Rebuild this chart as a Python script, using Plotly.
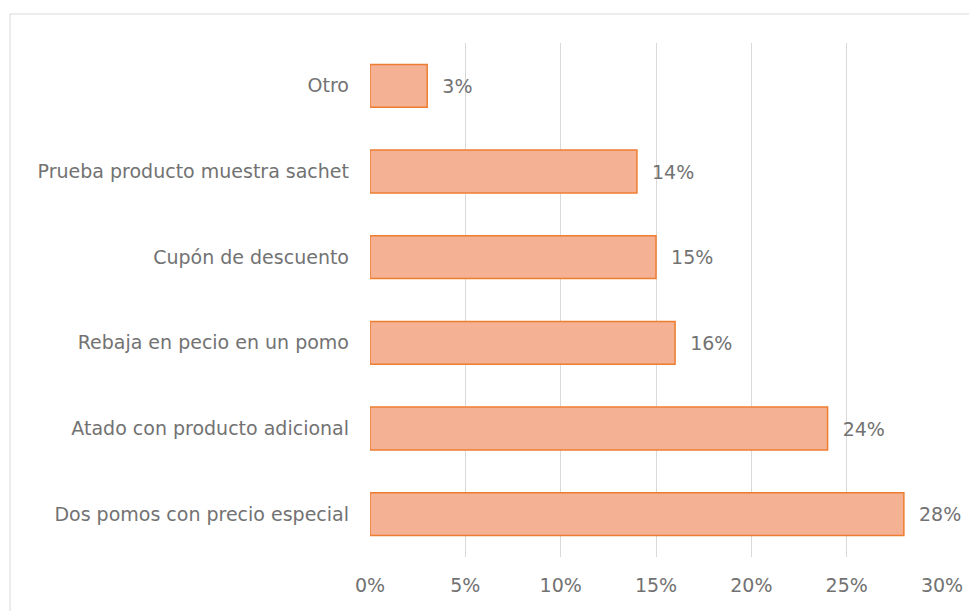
import plotly.graph_objects as go

categories = ["Dos pomos con precio especial", "Atado con producto adicional",
              "Rebaja en pecio en un pomo", "Cupón de descuento",
              "Prueba producto muestra sachet", "Otro"]
values = [0.28, 0.24, 0.16, 0.15, 0.14, 0.03]
tick_vals = [0, 0.05, 0.10, 0.15, 0.20, 0.25, 0.30]
tick_text = ["0%", "5%", "10%", "15%", "20%", "25%", "30%"]

W, H = 977, 611
OFF = 8  # page body margin
L, T = 370 - OFF, 43 - OFF
R = W - (942 - OFF)
B = H - (557 - OFF)
pw, ph = W - L - R, H - T - B

FONT = "DejaVu Sans"
FS = 19
GRAY = "#727272"

fig = go.Figure(go.Bar(
    y=categories, x=values, orientation="h",
    marker=dict(color="#F5B193", line=dict(color="#ED7D31", width=1.5)),
    text=[f"\u00a0\u00a0{round(v*100)}%" for v in values],
    textposition="outside", cliponaxis=False,
    textfont=dict(family=FONT, size=FS, color=GRAY),
    width=0.5,
))

fig.update_layout(
    width=W, height=H, margin=dict(l=L, r=R, t=T, b=B),
    plot_bgcolor="white", paper_bgcolor="white",
    showlegend=False,
    font=dict(family=FONT, size=FS, color=GRAY),
    xaxis=dict(range=[0, 0.30], tickvals=tick_vals, ticktext=tick_text,
               showgrid=True, gridcolor="#D9D9D9", gridwidth=1,
               zeroline=False, showline=False, ticks="",
               ticklabelstandoff=15,
               tickfont=dict(family=FONT, size=FS, color=GRAY)),
    yaxis=dict(showgrid=False, zeroline=False, showline=False, ticks="",
               ticklabelstandoff=20,
               tickfont=dict(family=FONT, size=FS, color=GRAY)),
    shapes=[dict(type="rect", xref="paper", yref="paper",
                 x0=(10 - OFF - L) / pw, x1=(990 - L) / pw,
                 y0=-(630 - (H - B)) / ph, y1=1 + (T - (14 - OFF)) / ph,
                 line=dict(color="#D9D9D9", width=1), fillcolor="rgba(0,0,0,0)",
                 layer="below")],
)

fig.write_html("out.html")
